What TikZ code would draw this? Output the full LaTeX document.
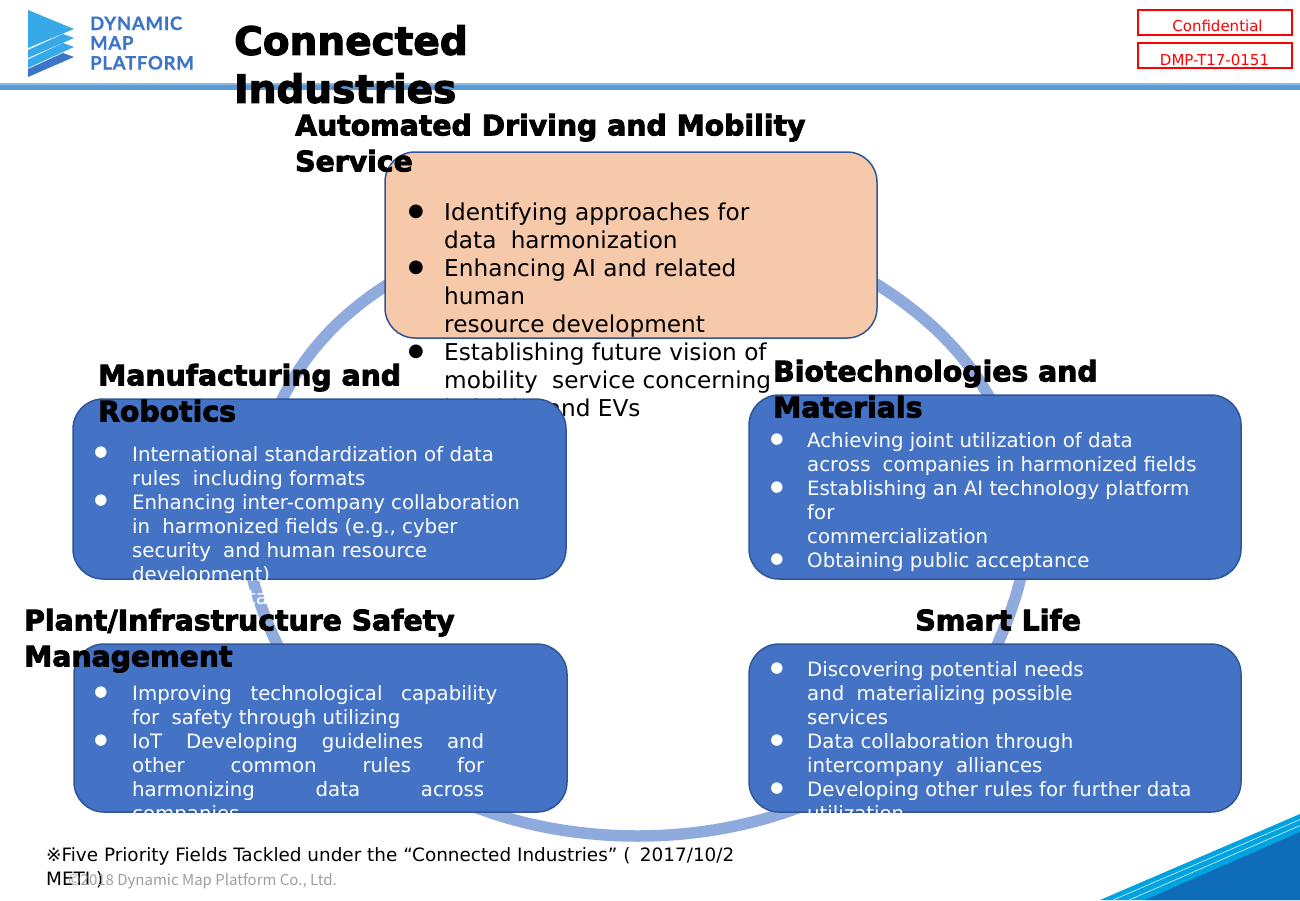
\documentclass[tikz,border=0pt]{standalone}
\usepackage{fontspec}
\setmainfont{DejaVu Sans}
\newfontfamily\heavyfont[FakeBold=3]{DejaVu Sans Bold}
\newfontfamily\logofont[LetterSpace=4,FakeBold=0.6]{Lato Bold}
\newfontfamily\copyfont{Noto Sans CJK JP}
\definecolor{ringc}{HTML}{8FAADC}
\definecolor{boxblue}{HTML}{4472C4}
\definecolor{boxedge}{HTML}{2F5597}
\definecolor{boxorange}{HTML}{F6C9AB}
\definecolor{barblue}{HTML}{5B9BD5}
\definecolor{logosky}{HTML}{38A9E8}
\definecolor{logoblue}{HTML}{3B74C8}
\definecolor{cornerdark}{HTML}{0F6CB8}
\definecolor{cornerlight}{HTML}{00A3E0}
\tikzset{
  panel/.style={draw=boxedge,line width=1.5pt,rounded corners=30pt},
  bluepanel/.style={panel,fill=boxblue},
  tagbox/.style={draw=red,line width=2pt,fill=white},
  tagtext/.style={text=red,font=\fontsize{15}{18}\selectfont,inner sep=0pt},
  heading/.style={anchor=north west,inner sep=0pt,align=left,text=black},
  bigtitle/.style={heading,font=\heavyfont\fontsize{39}{48}\selectfont},
  subtitle/.style={heading,font=\heavyfont\fontsize{28.3}{36}\selectfont},
  bluetext/.style={anchor=north west,inner sep=0pt,align=left,text=white,font=\fontsize{19.75}{24}\selectfont},
  orangetext/.style={anchor=north west,inner sep=0pt,align=left,text=black,font=\fontsize{23.2}{28}\selectfont},
  whitedot/.style={text=white,inner sep=0pt,font=\fontsize{15}{15}\selectfont},
  blackdot/.style={text=black,inner sep=0pt,font=\fontsize{18}{18}\selectfont},
  logotext/.style={anchor=base west,inner sep=0pt,text=logoblue,font=\logofont\fontsize{18.5}{20}\selectfont},
  ringarc/.style={ringc,line width=11.5pt}
}
\begin{document}
\begin{tikzpicture}[x=1pt,y=-1pt]
\useasboundingbox (0,0) rectangle (1300,900);
% header
\fill[barblue!70] (0,83) rectangle (1300,84.5);
\fill[barblue] (0,84.5) rectangle (1300,90);
% logo
\fill[logosky] (28,10) -- (74,29) -- (28,48) -- cycle;
\fill[logosky] (28,50) -- (63,34) -- (74,38) -- (28,58) -- cycle;
\fill[logosky] (28,59.5) -- (63,43) -- (74,47) -- (28,68) -- cycle;
\fill[logoblue] (28,69) -- (63,53) -- (74,57) -- (28,77) -- cycle;
\node[logotext] (logoa) at (90,30) {DYNAMIC};
\node[logotext] (logob) at (90,49.5) {MAP};
\node[logotext] (logoc) at (90,69.5) {PLATFORM};
% tags
\node[tagbox,minimum width=154pt,minimum height=25pt,inner sep=0pt] (tagA) at (1215,22) {};
\node[tagtext] (tagAt) at (1217.5,26) {Confidential};
\node[tagbox,minimum width=154pt,minimum height=25pt,inner sep=0pt] (tagB) at (1215,55) {};
\node[tagtext] (tagBt) at (1214.5,60) {DMP-T17-0151};
% corner
\fill[cornerlight] (1100,900) -- (1300,814) -- (1300,900) -- cycle;
\fill[cornerdark] (1145,900) -- (1300,832) -- (1300,900) -- cycle;
\draw[white,line width=.5pt] (1113,900) -- (1300,819.5);
\draw[white,line width=.5pt] (1129,900) -- (1300,825.5);
% ring
\draw[ringarc] (395,280) .. controls (345,310) and (305,350) .. (280,404);
\draw[ringarc] (251,572) .. controls (257,597) and (266,622) .. (280,650);
\draw[ringarc] (465,803) .. controls (570,847) and (705,847) .. (810,803);
\draw[ringarc] (995,650) .. controls (1006,625) and (1016,600) .. (1022,572);
\draw[ringarc] (868,279) .. controls (920,310) and (965,350) .. (993,404);
% orange panel and its text, under the blue panels
\draw[panel,fill=boxorange] (385,152) rectangle (877,338);
\node[blackdot] (o1) at (416,212) {●};
\node[blackdot] (o2) at (416,268) {●};
\node[blackdot] (o3) at (416,352) {●};
\node[orangetext] (otext) at (444,201) {\strut Identifying approaches for\\data\hspace{.3em} harmonization\\Enhancing AI and related\\human\\resource development\\Establishing future vision of\\mobility\hspace{.3em} service concerning\\hybrids\hspace{.4em} and EVs};
% blue panels
\draw[bluepanel] (73,399) rectangle (566,579);
\draw[bluepanel] (749,395) rectangle (1241,579);
\draw[bluepanel] (74,644) rectangle (567,812);
\draw[bluepanel] (749,644) rectangle (1241,812);
% manufacturing
\node[whitedot] (m1) at (101,453) {●};
\node[whitedot] (m2) at (101,501) {●};
\node[bluetext] (mtext) at (132,444) {\strut International standardization of data\\rules\hspace{.3em} including formats\\Enhancing inter-company collaboration\\in\hspace{.3em} harmonized fields (e.g., cyber\\security\hspace{.3em} and human resource\\development)};
\node[text=white,inner sep=0pt,font=\fontsize{20}{24}\selectfont] (mta) at (258,598) {ta};
% bio
\node[whitedot] (b1) at (777,440) {●};
\node[whitedot] (b2) at (777,488) {●};
\node[whitedot] (b3) at (777,560) {●};
\node[bluetext] (btext) at (807,430) {\strut Achieving joint utilization of data\\across\hspace{.3em} companies in harmonized fields\\Establishing an AI technology platform\\for\\commercialization\\Obtaining public acceptance};
% plant
\node[whitedot] (p1) at (101,693) {●};
\node[whitedot] (p2) at (101,741) {●};
\node[bluetext] (ptext) at (132,683) {\strut\makebox[365pt][s]{Improving technological capability}\\for\hspace{.3em} safety through utilizing\\\makebox[352pt][s]{IoT Developing guidelines and}\\\makebox[352pt][s]{other common rules for}\\\makebox[352pt][s]{harmonizing data across}\\companies};
% smart
\node[whitedot] (s1) at (777,669) {●};
\node[whitedot] (s2) at (777,741) {●};
\node[whitedot] (s3) at (777,789) {●};
\node[bluetext] (stext) at (807,659) {\strut Discovering potential needs\\and\hspace{.3em} materializing possible\\services\\Data collaboration through\\intercompany\hspace{.3em} alliances\\Developing other rules for further data\\utilization};
% titles
\node[bigtitle] (title) at (234,21) {\strut Connected\\Industries};
\node[subtitle] (t1) at (295,110) {\strut Automated Driving and Mobility\\Service};
\node[subtitle] (t2) at (98,360) {\strut Manufacturing and\\Robotics};
\node[subtitle] (t3) at (773,356) {\strut Biotechnologies and\\Materials};
\node[subtitle] (t4) at (24,605) {\strut Plant/Infrastructure Safety\\Management};
\node[subtitle] (t5) at (773,605) {\strut\makebox[450pt][c]{Smart Life}};
% footnote
\node[anchor=north west,inner sep=0pt,align=left,font=\fontsize{18.4}{24}\selectfont] (foot) at (46,844.5) {\strut ※Five Priority Fields Tackled under the “Connected Industries” (\hspace{.2em} 2017/10/2\\METI )};
\node[anchor=base west,inner sep=0pt,text=black!38,font=\copyfont\fontsize{15}{16}\selectfont] (copy) at (68,885) {©2018 Dynamic Map Platform Co., Ltd.};
\end{tikzpicture}
\end{document}
